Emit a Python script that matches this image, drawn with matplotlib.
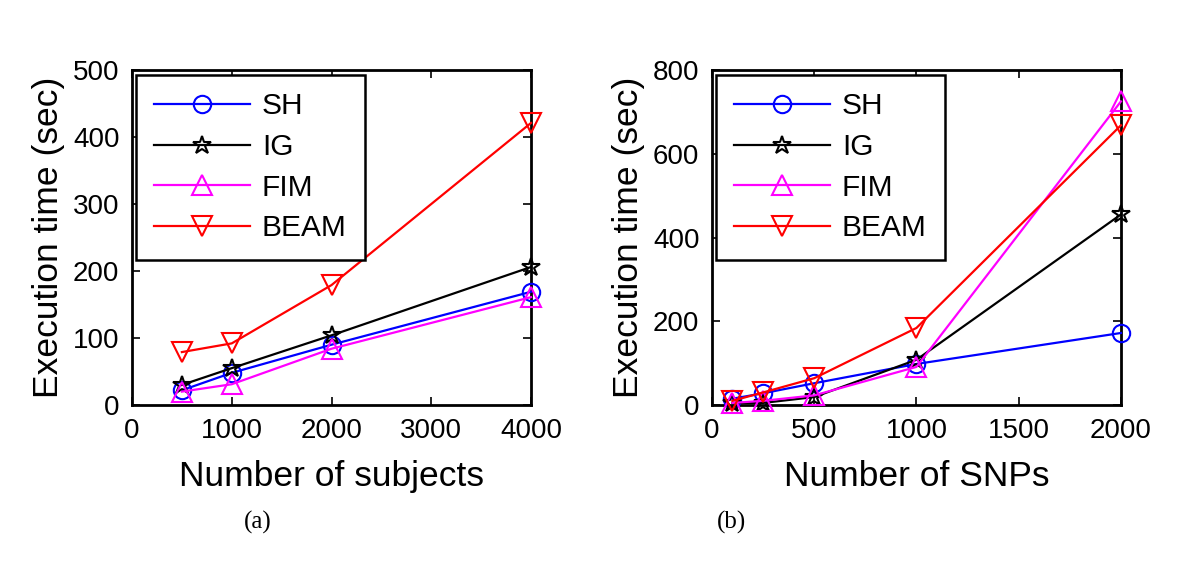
import matplotlib
matplotlib.use("Agg")
import matplotlib.pyplot as plt

plt.rcParams['font.family'] = ['Liberation Sans', 'DejaVu Sans']

# Panel (a)
subjects = [500, 1000, 2000, 4000]
a_SH = [22, 48, 90, 169]
a_IG = [30, 55, 104, 206]
a_FIM = [20, 31, 84, 161]
a_BEAM = [79, 92, 179, 421]

# Panel (b)
snps = [100, 250, 500, 1000, 2000]
b_SH = [15, 28, 52, 98, 172]
b_IG = [5, 5, 19, 108, 455]
b_FIM = [5, 10, 23, 91, 725]
b_BEAM = [10, 30, 64, 184, 668]

names = ['SH', 'IG', 'FIM', 'BEAM']
colors = ['#0000ff', '#000000', '#ff00ff', '#ff0000']
markers = ['o', '*', '^', 'v']
msizes = [12.5, 13.5, 15, 15]

fig = plt.figure(figsize=(12, 5.67), dpi=100)
ax1 = fig.add_axes([0.11, 0.2857, 0.3325, 0.5908])
ax2 = fig.add_axes([0.5933, 0.2857, 0.3408, 0.5908])

def draw(ax, x, series, xlim, ylim, xticks, yticks, xlabel):
    for s, n, c, m, ms in zip(series, names, colors, markers, msizes):
        ax.plot(x, s, color=c, marker=m, markersize=ms, markerfacecolor='none',
                markeredgecolor=c, markeredgewidth=1.5, linewidth=1.6, label=n,
                clip_on=False, zorder=3)
    ax.set_xlim(*xlim)
    ax.set_ylim(*ylim)
    ax.set_xticks(xticks)
    ax.set_yticks(yticks)
    ax.tick_params(direction='in', top=True, right=True, labelsize=20, length=6, width=1.2, pad=9)
    for sp in ax.spines.values():
        sp.set_linewidth(2)
        sp.set_zorder(2)
    ax.set_xlabel(xlabel, fontsize=25.5, labelpad=12)
    ax.set_ylabel('Execution time (sec)', fontsize=25.5, labelpad=6)
    leg = ax.legend(loc='upper left', fontsize=21.5, handlelength=3.2, frameon=True, fancybox=False,
                    borderpad=0.6, labelspacing=0.42, handletextpad=0.4, borderaxespad=0.15)
    leg.get_frame().set_edgecolor('black')
    leg.get_frame().set_linewidth(1.8)
    leg.get_frame().set_alpha(1)
    leg.set_zorder(5)

draw(ax1, subjects, [a_SH, a_IG, a_FIM, a_BEAM], (0, 4000), (0, 500),
     [0, 1000, 2000, 3000, 4000], [0, 100, 200, 300, 400, 500], 'Number of subjects')
draw(ax2, snps, [b_SH, b_IG, b_FIM, b_BEAM], (0, 2000), (0, 800),
     [0, 500, 1000, 1500, 2000], [0, 200, 400, 600, 800], 'Number of SNPs')

fig.text(258 / 1200, 1 - 522 / 567, '(a)', fontsize=18, family=['Liberation Serif'], ha='center', va='center')
fig.text(731 / 1200, 1 - 522 / 567, '(b)', fontsize=18, family=['Liberation Serif'], ha='center', va='center')

fig.savefig('out.png', dpi=100)
